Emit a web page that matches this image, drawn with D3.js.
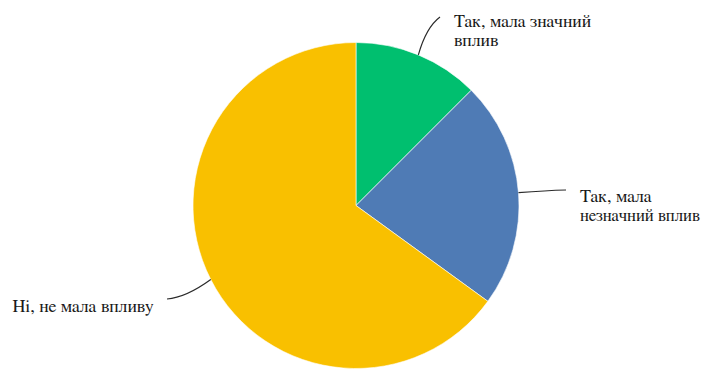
<!DOCTYPE html>
<html>
<head>
<meta charset="utf-8">
<script src="https://cdn.jsdelivr.net/npm/d3@7"></script>
<style>
  html, body { margin: 0; padding: 0; background: #fff; }
  svg { display: block; }
</style>
</head>
<body>
<svg id="chart" width="706" height="369"></svg>
<script>
// Answer categories, in clockwise order from 12 o'clock
const categories = ["Так, мала значний вплив", "Так, мала незначний вплив", "Ні, не мала впливу"];
// Share of respondents, %
const values = [12.5, 22.5, 65];
// Label lines as wrapped for display
const labelLines = [["Так, мала значний", "вплив"], ["Так, мала", "незначний вплив"], ["Ні, не мала впливу"]];
const colors = ["#00bf6f", "#4f7bb5", "#f9c000"];

const width = 706, height = 369;
const cx = 356, cy = 205.5, radius = 163;
const fontStack = "FreeSerif, 'Liberation Serif', 'DejaVu Serif', serif";

const svg = d3.select("#chart");
const g = svg.append("g").attr("transform", `translate(${cx},${cy})`);

const data = categories.map((c, i) => ({ category: c, value: values[i], lines: labelLines[i], color: colors[i] }));

const pie = d3.pie().sort(null).value(d => d.value);
const arc = d3.arc().innerRadius(0).outerRadius(radius);
const arcs = pie(data);

g.selectAll("path.slice")
  .data(arcs)
  .enter().append("path")
  .attr("class", "slice")
  .attr("d", arc)
  .attr("fill", d => d.data.color)
  .attr("stroke", "#ffffff")
  .attr("stroke-width", 0.6);

// Leader-line end points and text placement, relative to the pie centre
const callouts = [
  { end: [84, -188.5], ctrl: [70, -178], text: [98, -179] },
  { end: [210, -15.5], ctrl: [190, -15], text: [224, -4] },
  { end: [-189, 93.5], ctrl: [-170, 92], text: [-343.5, 106] }
];

// right-hand limit for label text, in centred coordinates
const maxRight = width - cx - 6;

arcs.forEach((a, i) => {
  const mid = (a.startAngle + a.endAngle) / 2;
  const sx = radius * Math.sin(mid), sy = -radius * Math.cos(mid);
  const c = callouts[i];
  const p = d3.path();
  p.moveTo(sx, sy);
  p.quadraticCurveTo(c.ctrl[0], c.ctrl[1], c.end[0], c.end[1]);
  g.append("path")
    .attr("d", p.toString())
    .attr("fill", "none")
    .attr("stroke", "#2a2a2a")
    .attr("stroke-width", 1.2);

  const t = g.append("text")
    .attr("x", c.text[0])
    .attr("y", c.text[1])
    .attr("font-family", fontStack)
    .attr("font-size", 18)
    .attr("fill", "#1a1a1a");
  a.data.lines.forEach((ln, j) => {
    const ts = t.append("tspan").attr("x", c.text[0]).attr("dy", j === 0 ? 0 : 19.5).text(ln);
    // squeeze a line slightly if it would run past the right edge
    const len = ts.node().getComputedTextLength();
    if (c.text[0] + len > maxRight) {
      ts.attr("textLength", maxRight - c.text[0]).attr("lengthAdjust", "spacingAndGlyphs");
    }
  });
});
</script>
</body>
</html>
